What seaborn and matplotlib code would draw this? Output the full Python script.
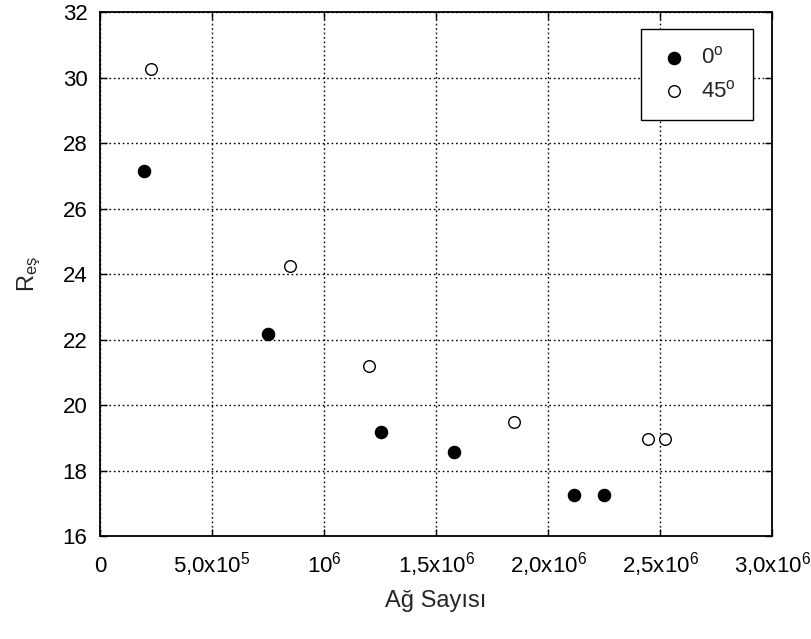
import pandas as pd
import matplotlib
matplotlib.use("Agg")
import matplotlib.pyplot as plt
import seaborn as sns

# values
x_0deg = [0.196e6, 0.752e6, 1.254e6, 1.58e6, 2.116e6, 2.248e6]
y_0deg = [27.16, 22.18, 19.17, 18.56, 17.26, 17.26]

x_45deg = [0.23e6, 0.85e6, 1.202e6, 1.849e6, 2.444e6, 2.52e6]
y_45deg = [30.27, 24.25, 21.19, 19.49, 18.98, 18.98]

x_ticks = [0, 0.5e6, 1.0e6, 1.5e6, 2.0e6, 2.5e6, 3.0e6]
x_tick_labels = ["0", "5,0x10$^5$", "10$^6$", "1,5x10$^6$",
                 "2,0x10$^6$", "2,5x10$^6$", "3,0x10$^6$"]
y_ticks = [16, 18, 20, 22, 24, 26, 28, 30, 32]

df = pd.concat([
    pd.DataFrame({"ag": x_0deg, "res": y_0deg, "aci": "0$^o$"}),
    pd.DataFrame({"ag": x_45deg, "res": y_45deg, "aci": "45$^o$"}),
])

sns.set_style("ticks")
plt.rcParams["font.family"] = ["Liberation Sans", "DejaVu Sans"]
plt.rcParams["mathtext.fontset"] = "custom"
plt.rcParams["mathtext.rm"] = "Liberation Sans"
plt.rcParams["mathtext.it"] = "Liberation Sans"
plt.rcParams["mathtext.default"] = "regular"

fig = plt.figure(figsize=(8.12, 6.39), dpi=100)
ax = fig.add_axes([0.123, 0.161, 0.828, 0.820])

sns.scatterplot(data=df[df["aci"] == "0$^o$"], x="ag", y="res", ax=ax,
                color="black", edgecolor="black", s=80, linewidth=0.8,
                label="0$^o$", zorder=3)
sns.scatterplot(data=df[df["aci"] == "45$^o$"], x="ag", y="res", ax=ax,
                facecolor="white", edgecolor="black", s=70, linewidth=1.0,
                label="45$^o$", zorder=3)

ax.set_xlim(0, 3.0e6)
ax.set_ylim(16, 32)
ax.set_xticks(x_ticks)
ax.set_xticklabels(x_tick_labels)
ax.set_yticks(y_ticks)

ax.grid(True, color="black", linestyle=(0, (1.2, 2.0)), linewidth=1.0)
ax.set_axisbelow(True)
for side in ax.spines.values():
    side.set_visible(True)
    side.set_color("black")
    side.set_linewidth(1.3)

ax.tick_params(direction="in", top=True, right=True, length=5, width=1,
               labelsize=16, colors="black")
ax.tick_params(axis="x", pad=26)
ax.tick_params(axis="y", pad=9)
# put all x tick labels on one baseline, like the original
for lbl in ax.get_xticklabels():
    lbl.set_verticalalignment("baseline")

ax.set_xlabel("Ağ Sayısı", fontsize=17, labelpad=8)
ax.set_ylabel("R$_{eş}$", fontsize=17, labelpad=14)

leg = ax.legend(loc="upper right", bbox_to_anchor=(0.9717, 0.9676), fontsize=16,
                frameon=True, fancybox=False, edgecolor="black",
                borderpad=0.8, labelspacing=0.5, handlelength=1.4,
                handletextpad=0.5, borderaxespad=0.0)
leg.get_frame().set_linewidth(1.0)
leg.get_frame().set_alpha(1.0)

fig.savefig("out.png", dpi=100)
